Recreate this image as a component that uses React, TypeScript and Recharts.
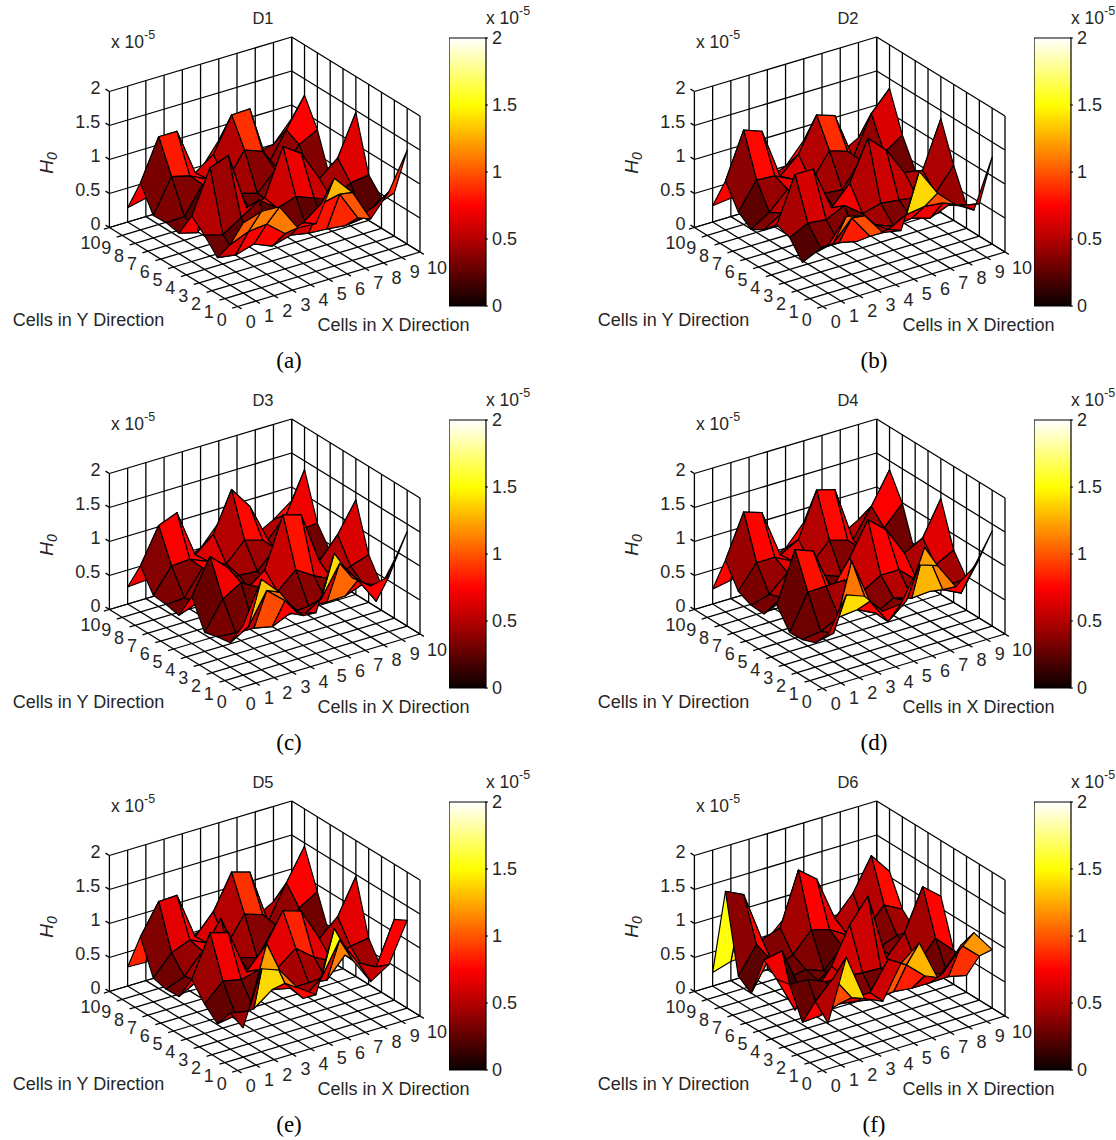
import React from 'react'
import { ScatterChart, Scatter, XAxis, YAxis, BarChart, Bar } from 'recharts'

// heights in units of 1e-5, rows run y = 10 down to y = 1, columns x = 1 to 10
const d1Heights = [
  [0.21, 0.27, 0.4, 0.4, 0.45, 0.8, 0.8, 0.45, 0.5, 0.8],
  [0.69, 1.29, 1.29, 0.6, 0.79, 1.29, 1.3, 0.4, 0.83, 1.26],
  [0.33, 0.82, 0.75, 0.62, 0.5, 0.89, 0.79, 0.4, 0.73, 0.87],
  [0.34, 0.35, 0.74, 0.4, 0.45, 0.37, 0.63, 0.35, 0.35, 0.27],
  [0.3, 0.23, 0.5, 0.45, 0.3, 0.35, 0.3, 0.3, 0.4, 0.45],
  [0.67, 1.3, 1.4, 0.55, 0.61, 1.29, 1.11, 0.66, 0.88, 1.47],
  [0.5, 0.43, 0.6, 0.78, 0.58, 0.67, 0.57, 0.46, 0.63, 0.67],
  [0.29, 0.25, 0.33, 0.22, 0.3, 0.25, 0.23, 0.2, 0.23, 0.45],
  [0.6, 0.71, 0.74, 0.52, 0.6, 0.8, 0.86, 0.43, 0.54, 0.64],
  [1.03, 1.12, 1.11, 0.72, 0.7, 1.29, 1.0, 0.53, 0.85, 1.38],
]
const d2Heights = [
  [0.24, 0.27, 0.4, 0.4, 0.5, 0.8, 0.8, 0.45, 0.6, 0.8],
  [0.72, 1.39, 1.29, 0.55, 0.79, 1.29, 1.2, 0.5, 1.07, 1.36],
  [0.38, 0.77, 0.75, 0.62, 0.5, 0.88, 0.79, 0.4, 0.61, 0.79],
  [0.24, 0.41, 0.67, 0.4, 0.45, 0.42, 0.78, 0.35, 0.3, 0.39],
  [0.35, 0.52, 0.5, 0.45, 0.3, 0.35, 0.3, 0.3, 0.4, 0.45],
  [0.54, 1.2, 1.2, 0.55, 0.83, 1.41, 1.16, 0.75, 0.7, 1.38],
  [0.47, 0.6, 0.57, 0.7, 0.5, 0.57, 0.54, 0.5, 0.48, 0.81],
  [0.22, 0.35, 0.35, 0.29, 0.45, 0.35, 0.39, 0.31, 0.42, 0.34],
  [0.48, 0.54, 0.83, 0.48, 0.5, 0.64, 0.68, 0.65, 0.53, 0.48],
  [0.7, 1.05, 0.98, 0.65, 0.6, 1.39, 0.99, 0.74, 0.58, 1.28],
]
const d3Heights = [
  [0.25, 0.27, 0.4, 0.4, 0.5, 0.8, 0.8, 0.45, 0.6, 0.8],
  [0.68, 1.19, 1.3, 0.6, 0.82, 1.4, 1.07, 0.5, 0.79, 1.37],
  [0.36, 0.71, 0.73, 0.62, 0.5, 0.77, 0.69, 0.4, 0.68, 0.7],
  [0.34, 0.36, 0.72, 0.4, 0.45, 0.43, 0.69, 0.35, 0.3, 0.4],
  [0.3, 0.4, 0.5, 0.45, 0.3, 0.35, 0.3, 0.3, 0.4, 0.45],
  [0.69, 1.2, 0.95, 0.55, 0.76, 1.49, 1.41, 0.65, 0.96, 1.39],
  [0.28, 0.69, 0.85, 0.7, 0.56, 0.8, 0.63, 0.5, 0.61, 0.7],
  [0.33, 0.31, 0.3, 0.24, 0.36, 0.38, 0.36, 0.37, 0.47, 0.37],
  [0.36, 0.52, 0.97, 0.74, 0.44, 0.61, 1.05, 0.72, 0.33, 0.85],
  [0.73, 1.33, 1.06, 0.67, 0.6, 1.39, 0.95, 0.75, 0.81, 1.39],
]
const d4Heights = [
  [0.22, 0.27, 0.4, 0.4, 0.5, 0.8, 0.8, 0.45, 0.6, 0.8],
  [0.76, 1.39, 1.3, 0.6, 0.74, 1.39, 1.32, 0.5, 0.91, 1.37],
  [0.42, 0.76, 0.76, 0.62, 0.5, 0.77, 0.69, 0.4, 0.71, 0.99],
  [0.33, 0.41, 0.65, 0.4, 0.45, 0.35, 0.69, 0.35, 0.3, 0.37],
  [0.32, 0.48, 0.5, 0.45, 0.3, 0.35, 0.3, 0.3, 0.4, 0.45],
  [0.57, 1.3, 1.2, 0.55, 0.94, 1.42, 1.19, 0.77, 0.91, 1.41],
  [0.28, 0.79, 0.8, 0.81, 0.56, 0.72, 0.72, 0.48, 0.63, 0.77],
  [0.29, 0.33, 0.46, 0.49, 0.36, 0.5, 0.42, 0.44, 0.45, 0.47],
  [0.36, 0.42, 1.4, 0.73, 0.35, 0.58, 1.28, 0.58, 0.45, 0.88],
  [0.6, 1.1, 1.0, 0.7, 0.73, 1.22, 1.13, 0.74, 0.95, 1.4],
]
const d5Heights = [
  [0.28, 0.27, 0.4, 0.4, 0.5, 0.8, 0.8, 0.45, 0.6, 0.8],
  [0.84, 1.28, 1.29, 0.6, 0.89, 1.39, 1.31, 0.5, 0.99, 1.45],
  [0.35, 0.64, 0.75, 0.62, 0.5, 0.89, 0.8, 0.4, 0.74, 0.9],
  [0.3, 0.41, 0.7, 1.1, 0.45, 0.36, 0.77, 0.35, 0.3, 0.35],
  [0.31, 0.46, 0.5, 0.45, 0.3, 0.35, 0.3, 0.3, 0.4, 0.45],
  [0.68, 1.28, 1.21, 0.55, 0.84, 1.29, 1.2, 0.72, 0.96, 1.47],
  [0.43, 0.69, 0.63, 0.7, 0.64, 0.85, 0.64, 0.5, 0.64, 0.68],
  [0.26, 0.3, 0.32, 0.52, 0.46, 0.46, 0.42, 0.71, 0.44, 0.35],
  [0.53, 0.48, 1.39, 0.73, 0.43, 0.65, 1.13, 0.71, 0.57, 1.19],
  [0.43, 1.22, 1.12, 0.78, 0.6, 1.49, 0.95, 0.55, 0.72, 1.29],
]
const d6Heights = [
  [0.2, 0.28, 0.3, 0.45, 0.7, 0.7, 0.4, 0.4, 0.7, 0.6],
  [1.51, 1.38, 0.64, 0.73, 1.5, 1.29, 0.63, 0.92, 1.39, 1.08],
  [0.38, 0.76, 0.35, 0.45, 0.74, 0.66, 0.5, 0.5, 0.78, 0.64],
  [0.24, 0.68, 0.3, 0.35, 0.25, 0.53, 0.4, 0.35, 0.45, 0.45],
  [0.85, 0.9, 0.25, 0.3, 0.3, 0.5, 0.4, 0.35, 0.4, 0.45],
  [0.68, 0.15, 0.3, 0.63, 1.16, 1.5, 0.51, 0.8, 1.4, 1.18],
  [0.72, 0.71, 0.6, 0.6, 0.57, 0.56, 0.5, 0.45, 0.76, 0.5],
  [0.28, 0.3, 0.39, 0.35, 0.3, 0.33, 0.3, 0.3, 0.31, 0.25],
  [0.7, 0.97, 0.6, 0.59, 1.0, 0.84, 0.6, 0.56, 0.89, 0.65],
  [0.5, 1.39, 0.7, 0.58, 1.06, 1.28, 0.69, 0.95, 1.19, 0.86],
]

const panelNames = ['D1', 'D2', 'D3', 'D4', 'D5', 'D6']
const panelCaptions = ['(a)', '(b)', '(c)', '(d)', '(e)', '(f)']
const panelHeights = [d1Heights, d2Heights, d3Heights, d4Heights, d5Heights, d6Heights]
const gridTicks = [0, 1, 2, 3, 4, 5, 6, 7, 8, 9, 10]
const heightTicks = [0, 0.5, 1, 1.5, 2]
const colorbarData = [{ name: 'H0', top: 2 }]

const PANEL_W = 530
const PANEL_H = 382
const SANS = '"Liberation Sans", Arial, sans-serif'
const TEXT = '#262626'

// fixed MATLAB style view, turns (x, y, z) into the units of the hidden axes
function project(x: number, y: number, z: number) {
  return {
    px: 237.7 + 18.23 * x - 12.83 * y,
    py: 306.5 - 5.45 * x - 7.9 * y - 68 * z,
  }
}

// MATLAB "hot" colormap over the 0..2 range
function hot(v: number) {
  const t = Math.min(1, Math.max(0, v / 2))
  const r = Math.min(1, 0.04 + t / 0.375)
  const g = Math.min(1, Math.max(0, (t - 0.375) / 0.375))
  const b = Math.min(1, Math.max(0, (t - 0.75) / 0.25))
  return `rgb(${Math.round(r * 255)},${Math.round(g * 255)},${Math.round(b * 255)})`
}

const noSymbol = () => null

function segment(id: string, a: number[], b: number[], width = 1.3) {
  const drawLine = (p: any) => (
    <line x1={p.points[0].x} y1={p.points[0].y} x2={p.points[1].x} y2={p.points[1].y} stroke="#000" strokeWidth={width} />
  )
  return (
    <Scatter
      key={id}
      data={[project(a[0], a[1], a[2]), project(b[0], b[1], b[2])]}
      line={drawLine}
      shape={noSymbol}
      isAnimationActive={false}
    />
  )
}

function gridLines() {
  const out: React.ReactNode[] = []
  gridTicks.forEach((t) => {
    // floor
    out.push(segment(`fx${t}`, [t, 0, 0], [t, 10, 0]))
    out.push(segment(`fy${t}`, [0, t, 0], [10, t, 0]))
    // back walls
    out.push(segment(`wx${t}`, [t, 10, 0], [t, 10, 2]))
    out.push(segment(`wy${t}`, [10, t, 0], [10, t, 2]))
    // ticks on the floor edges
    out.push(segment(`tx${t}`, [t, 0, 0], [t, -0.3, 0]))
    out.push(segment(`ty${t}`, [0, t, 0], [-0.3, t, 0]))
  })
  heightTicks.forEach((h) => {
    out.push(segment(`hl${h}`, [0, 10, h], [10, 10, h]))
    out.push(segment(`hr${h}`, [10, 10, h], [10, 0, h]))
    out.push(segment(`tz${h}`, [0, 10, h], [0, 10.3, h]))
  })
  return out
}

function surfaceFaces(heights: number[][]) {
  const out: React.ReactNode[] = []
  const z = (x: number, y: number) => heights[10 - y][x - 1]
  // back row first so the nearer faces paint over
  for (let y = 9; y >= 1; y--) {
    for (let x = 9; x >= 1; x--) {
      const color = hot(z(x, y))
      const corners = [
        project(x, y, z(x, y)),
        project(x + 1, y, z(x + 1, y)),
        project(x + 1, y + 1, z(x + 1, y + 1)),
        project(x, y + 1, z(x, y + 1)),
      ]
      const drawFace = (p: any) => (
        <polygon
          points={p.points.map((c: any) => `${c.x},${c.y}`).join(' ')}
          fill={color}
          stroke="#000"
          strokeWidth={1.2}
          strokeLinejoin="round"
        />
      )
      out.push(<Scatter key={`q${x}-${y}`} data={corners} line={drawFace} shape={noSymbol} isAnimationActive={false} />)
    }
  }
  return out
}

function tickLabels(id: string, points: any[], dx: number, dy: number, anchor: string) {
  const drawLabel = (p: any) => (
    <text
      x={p.cx + dx}
      y={p.cy + dy}
      textAnchor={anchor}
      dominantBaseline="central"
      fontFamily={SANS}
      fontSize={18}
      fill={TEXT}
    >
      {p.payload.label}
    </text>
  )
  return <Scatter key={id} data={points} shape={drawLabel} isAnimationActive={false} />
}

function PlainText({ x, y, children, style }: any) {
  return (
    <div
      style={{
        position: 'absolute',
        left: x,
        top: y,
        transform: 'translate(-50%, -50%)',
        whiteSpace: 'nowrap',
        lineHeight: 1,
        fontFamily: SANS,
        color: TEXT,
        ...style,
      }}
    >
      {children}
    </div>
  )
}

function Multiplier({ x, y }: { x: number; y: number }) {
  return (
    <PlainText x={x} y={y} style={{ fontSize: 17.5 }}>
      x 10<span style={{ fontSize: 12.5, position: 'relative', top: -9 }}>-5</span>
    </PlainText>
  )
}

function ColorbarTick({ x, y, payload }: any) {
  return (
    <g>
      <line x1={x - 9} x2={x - 6} y1={y} y2={y} stroke="#000" />
      <text x={x - 2} y={y} dominantBaseline="central" fontFamily={SANS} fontSize={18} fill={TEXT}>
        {payload.value}
      </text>
    </g>
  )
}

function Panel({ index }: { index: number }) {
  const left = index % 2 === 0 ? 0 : 585
  const top = Math.floor(index / 2) * 382
  const heights = panelHeights[index]
  const gradientId = `hot-${index}`

  const xLabels = gridTicks.map((t) => ({ ...project(t, 0, 0), label: t }))
  const yLabels = gridTicks.map((t) => ({ ...project(0, t, 0), label: t }))
  const zLabels = heightTicks.map((h) => ({ ...project(0, 10, h), label: h }))

  return (
    <div style={{ position: 'absolute', left, top, width: PANEL_W + 6, height: PANEL_H }}>
      <div style={{ position: 'absolute', left: 0, top: 0 }}>
        <ScatterChart width={PANEL_W} height={PANEL_H} margin={{ top: 0, right: 0, bottom: 0, left: 0 }}>
          <XAxis type="number" dataKey="px" domain={[0, PANEL_W]} hide allowDataOverflow />
          <YAxis type="number" dataKey="py" domain={[0, PANEL_H]} reversed hide allowDataOverflow />
          {gridLines()}
          {surfaceFaces(heights)}
          {tickLabels('xl', xLabels.slice(0, 10), 13, 15, 'middle')}
          {tickLabels('xl10', xLabels.slice(10), 17, 16, 'middle')}
          {tickLabels('yl', yLabels.slice(0, 10), -16, 13, 'middle')}
          {tickLabels('yl10', yLabels.slice(10), -19, 15, 'middle')}
          {tickLabels('zl', zLabels, -9, -4, 'end')}
        </ScatterChart>
      </div>
      <div style={{ position: 'absolute', left: 449, top: 28 }}>
        <BarChart
          width={84}
          height={288}
          data={colorbarData}
          margin={{ top: 10, right: 0, bottom: 10, left: 0 }}
          barCategoryGap={0}
        >
          <defs>
            <linearGradient id={gradientId} x1="0" y1="1" x2="0" y2="0">
              {[0, 0.125, 0.25, 0.375, 0.5, 0.625, 0.75, 0.875, 1].map((s) => (
                <stop key={s} offset={s} stopColor={hot(s * 2)} />
              ))}
            </linearGradient>
          </defs>
          <XAxis dataKey="name" hide />
          <YAxis
            orientation="right"
            type="number"
            domain={[0, 2]}
            ticks={[0, 0.5, 1, 1.5, 2]}
            width={47}
            axisLine={false}
            tickLine={false}
            tick={<ColorbarTick />}
            interval={0}
          />
          <Bar dataKey="top" fill={`url(#${gradientId})`} stroke="#000" strokeWidth={1.2} isAnimationActive={false} />
        </BarChart>
      </div>
      <PlainText x={263} y={18} style={{ fontSize: 16.5 }}>{panelNames[index]}</PlainText>
      <Multiplier x={133} y={43} />
      <Multiplier x={508} y={19} />
      <PlainText x={48} y={163} style={{ fontSize: 19, fontStyle: 'italic', transform: 'translate(-50%, -50%) rotate(-90deg)' }}>
        H<sub style={{ fontSize: 14, verticalAlign: -4 }}>0</sub>
      </PlainText>
      <PlainText x={88.5} y={320} style={{ fontSize: 18 }}>Cells in Y Direction</PlainText>
      <PlainText x={393.5} y={325} style={{ fontSize: 18 }}>Cells in X Direction</PlainText>
      <PlainText x={289} y={360} style={{ fontSize: 23, color: '#000', fontFamily: '"Liberation Serif", serif' }}>
        {panelCaptions[index]}
      </PlainText>
    </div>
  )
}

export default function App() {
  return (
    <div style={{ position: 'absolute', left: 0, top: 0, width: 1116, height: 1140, overflow: 'hidden', background: '#fff' }}>
      {panelNames.map((name, i) => (
        <Panel key={name} index={i} />
      ))}
    </div>
  )
}
